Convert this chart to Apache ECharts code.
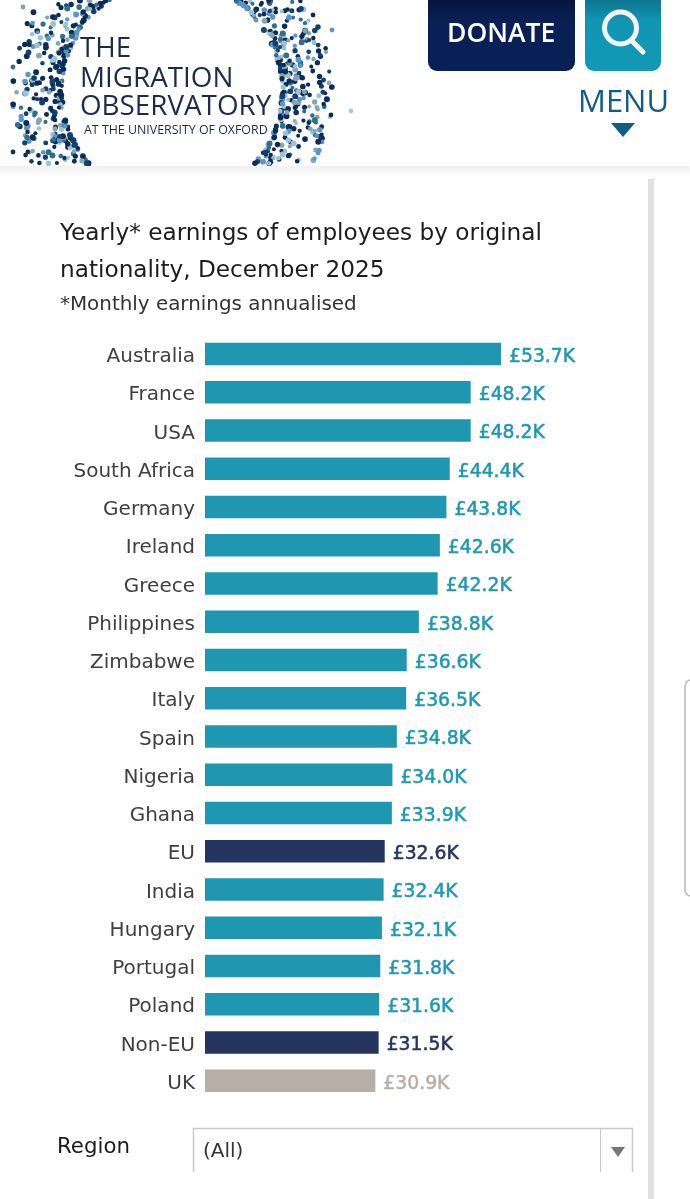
<!DOCTYPE html>
<html>
<head>
<meta charset="utf-8">
<title>Yearly earnings by original nationality</title>
<script src="https://cdn.jsdelivr.net/npm/echarts@6/dist/echarts.min.js"></script>
<style>
html,body{margin:0;padding:0;background:#fff}
#chart{width:690px;height:1199px}
</style>
</head>
<body>
<div id="chart"></div>
<script>
// Earnings in thousands of pounds, highest first
const categories = ['Australia','France','USA','South Africa','Germany','Ireland','Greece','Philippines','Zimbabwe','Italy','Spain','Nigeria','Ghana','EU','India','Hungary','Portugal','Poland','Non-EU','UK'];
const earnings = [53.7,48.2,48.2,44.4,43.8,42.6,42.2,38.8,36.6,36.5,34.8,34.0,33.9,32.6,32.4,32.1,31.8,31.6,31.5,30.9];
const aggregateGroups = ['EU','Non-EU'];
const homeGroup = 'UK';

const FONT = '"DejaVu Sans", sans-serif';
const TEAL = '#1f97b0', NAVY = '#24345f', TAUPE = '#b8aea8';
const colourFor = name => name === homeGroup ? TAUPE : aggregateGroups.includes(name) ? NAVY : TEAL;

// Speckled ring of the logo, from a small seeded generator so each load is identical
function logoDots() {
  const out = [];
  let seed = 20251;
  const rnd = () => (seed = (seed * 16807) % 2147483647) / 2147483647;
  const palette = ['#0c2c58','#0c2c58','#0c2c58','#0c2c58','#14406e','#5e94c6','#9cc2d8','#86a6b2','#2f6f8e'];
  const cx = 172, cy = 91;
  for (let i = 0; i < 1300; i++) {
    const a = rnd() * Math.PI * 2;
    const r = 110 + 50 * Math.pow(rnd(), 1.7);
    const x = cx + r * Math.cos(a), y = cy + r * Math.sin(a);
    const size = 2 + rnd() * 1.0;
    const fill = palette[Math.floor(rnd() * palette.length)];
    if (y > 165 || y < 0) continue;
    out.push({ type: 'circle', silent: true, z: 1, shape: { cx: x, cy: y, r: size }, style: { fill } });
  }
  [[23,7,'#7fa0ae'],[332,30,'#5e94c6'],[313,15,'#0c2c58'],[351,111,'#a9cbdc'],[13,152,'#0c2c58'],[329,83,'#86a6b2'],[331,115,'#0c2c58'],[13,67,'#3f6f80']].forEach(d => {
    out.push({ type:'circle', silent:true, z:1, shape:{cx:d[0],cy:d[1],r:2.4}, style:{fill:d[2]} });
  });
  return out;
}

const text = (x, y, str, size, fill, extra) => ({
  type: 'text', silent: true, z: 5, x, y,
  style: Object.assign({ text: str, font: `${size}px ${FONT}`, fill, verticalAlign: 'middle' }, extra || {})
});

const logoFont = '"Open Sans", sans-serif';
const graphics = [
  ...logoDots(),
  text(80, 49, 'THE', 27.8, '#1d2b4a', { font: `400 27.8px ${logoFont}` }),
  text(80, 79, 'MIGRATION', 27.8, '#1d2b4a', { font: `400 27.8px ${logoFont}` }),
  text(80, 107, 'OBSERVATORY', 27.8, '#1d2b4a', { font: `400 27.8px ${logoFont}` }),
  text(84, 130, 'AT THE UNIVERSITY OF OXFORD', 12.4, '#1d2b4a', { font: `400 12.4px ${logoFont}` }),

  // Header buttons
  { type:'rect', silent:true, z:3, shape:{x:428,y:-12,width:147,height:83,r:9},
    style:{fill:new echarts.graphic.LinearGradient(0,0,0,1,[{offset:0,color:'#050f30'},{offset:0.4,color:'#0a1f55'},{offset:1,color:'#0a1f55'}])} },
  text(447, 34, 'DONATE', 26.5, '#ffffff', { font: `600 26.5px ${logoFont}` }),
  { type:'rect', silent:true, z:3, shape:{x:585,y:-12,width:76,height:83,r:9},
    style:{fill:new echarts.graphic.LinearGradient(0,0,0,1,[{offset:0,color:'#0b6378'},{offset:0.4,color:'#1196b3'},{offset:1,color:'#1299b6'}])} },
  { type:'circle', silent:true, z:4, shape:{cx:620.5,cy:28,r:16}, style:{fill:'none',stroke:'#f4f4f4',lineWidth:5} },
  { type:'line', silent:true, z:4, shape:{x1:632,y1:41,x2:643,y2:52}, style:{stroke:'#f4f4f4',lineWidth:5,lineCap:'round'} },
  text(578, 103, 'MENU', 31, '#115e80', { font: `500 31px ${logoFont}` }),
  { type:'polygon', silent:true, z:4, shape:{points:[[611,123],[635,123],[623,137]]}, style:{fill:'#115e80'} },

  // Soft band under the header
  { type:'rect', silent:true, z:2, shape:{x:0,y:166,width:690,height:11},
    style:{fill:new echarts.graphic.LinearGradient(0,0,0,1,[{offset:0,color:'#f1f1f1'},{offset:1,color:'#ffffff'}])} },

  // Scroll track and side handle
  { type:'rect', silent:true, z:2, shape:{x:648,y:179,width:6,height:1020}, style:{fill:'#e0e0e0'} },
  { type:'rect', silent:true, z:2, shape:{x:685,y:680,width:12,height:216,r:6}, style:{fill:'#ffffff',stroke:'#b9b9b9',lineWidth:1.5} },

  // Heading
  text(60, 234, 'Yearly* earnings of employees by original', 23.2, '#1c1c1c'),
  text(60, 271, 'nationality, December 2025', 23.2, '#1c1c1c'),
  text(60, 305, '*Monthly earnings annualised', 19.9, '#333333'),

  // Region filter
  text(57, 1147, 'Region', 21.3, '#1c1c1c'),
  { type:'polyline', silent:true, z:3, shape:{points:[[193.5,1172],[193.5,1128.5],[632.5,1128.5],[632.5,1172]]}, style:{fill:'none',stroke:'#c9c9c9',lineWidth:1.5} },
  { type:'line', silent:true, z:3, shape:{x1:600.5,y1:1129,x2:600.5,y2:1172}, style:{stroke:'#c9c9c9',lineWidth:1} },
  text(203, 1152, '(All)', 20, '#333333'),
  { type:'polygon', silent:true, z:4, shape:{points:[[611,1147],[625,1147],[618,1157]]}, style:{fill:'#777777'} }
];

const chart = echarts.init(document.getElementById('chart'), null, { renderer: 'canvas' });
chart.setOption({
  animation: false,
  backgroundColor: '#ffffff',
  grid: { left: 205, top: 334.9, width: 441, height: 765, containLabel: false },
  xAxis: { type: 'value', min: 0, max: 80, show: false },
  yAxis: {
    type: 'category', data: categories, inverse: true,
    axisLine: { show: false }, axisTick: { show: false },
    axisLabel: {
      margin: 10,
      formatter: name => `{n|${name}}`,
      rich: { n: { color: '#3f3f3f', fontFamily: FONT, fontSize: 20, padding: [6, 0, 0, 0] } }
    }
  },
  series: [{
    type: 'bar',
    data: earnings.map((v, i) => ({
      value: v,
      itemStyle: { color: colourFor(categories[i]) },
      label: { color: colourFor(categories[i]), textBorderColor: colourFor(categories[i]) }
    })),
    barWidth: 22.5,
    silent: true,
    label: {
      show: true, position: 'right', distance: 8, offset: [0, 3],
      fontFamily: FONT, fontSize: 18.8,
      textBorderWidth: 0.5,
      formatter: p => `£${p.value.toFixed(1)}K`
    }
  }],
  graphic: { elements: graphics }
});
</script>
</body>
</html>
